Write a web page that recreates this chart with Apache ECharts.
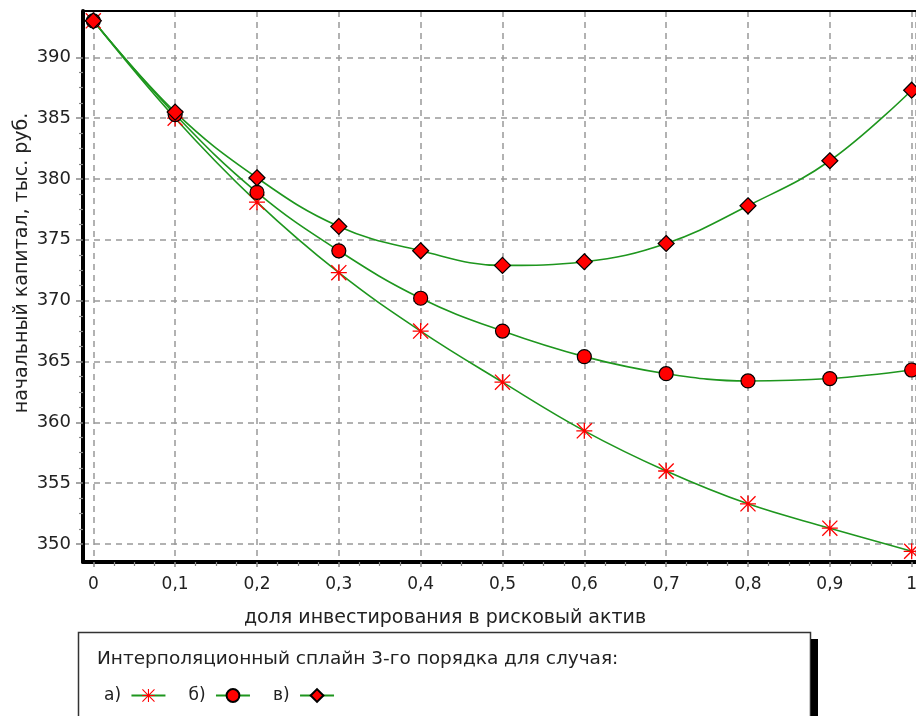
<!DOCTYPE html>
<html>
<head>
<meta charset="utf-8">
<script src="https://cdn.jsdelivr.net/npm/echarts@6/dist/echarts.min.js"></script>
<style>
  html, body { margin: 0; padding: 0; background: #fff; }
  #chart { width: 916px; height: 716px; }
</style>
</head>
<body>
<div id="chart"></div>
<script>
  // доля инвестирования (x) и значения трёх сплайнов
  const shares = [0, 0.1, 0.2, 0.3, 0.4, 0.5, 0.6, 0.7, 0.8, 0.9, 1];
  const caseA = [393.0, 385.0, 378.1, 372.3, 367.5, 363.3, 359.3, 356.0, 353.3, 351.3, 349.4];
  const caseB = [393.0, 385.3, 378.9, 374.1, 370.2, 367.5, 365.4, 364.0, 363.4, 363.6, 364.3];
  const caseC = [393.0, 385.5, 380.1, 376.1, 374.1, 372.9, 373.2, 374.7, 377.8, 381.5, 387.3];
  const seriesNames = ['а)', 'б)', 'в)'];

  const FONT = 'DejaVu Sans';
  const GREEN = '#1e961e';
  const RED = '#ff0000';
  const GRID_LINE = { color: '#999', width: 1.5, type: [6, 5] };

  // звёздочка: "+" и "x" из тонких полосок
  const star = 'path://M11 0L13 0L13 24L11 24Z M0 11L24 11L24 13L0 13Z ' +
    'M0 1.4L1.4 0L24 22.6L22.6 24Z M22.6 0L24 1.4L1.4 24L0 22.6Z';

  const pairs = (ys) => shares.map((x, i) => [x, ys[i]]);
  const commaFmt = (v) => String(+v.toFixed(1)).replace('.', ',');

  const chart = echarts.init(document.getElementById('chart'));

  const option = {
    animation: false,
    backgroundColor: '#fff',
    textStyle: { fontFamily: FONT },
    grid: [
      // рамка и сетка (немного шире диапазона данных)
      { left: 83, right: 0, top: 11, bottom: 154, outerBoundsMode: 'none' },
      // деления и подписи
      { left: 93.3, right: 4.3, top: 57.3, bottom: 172, outerBoundsMode: 'none' },
    ],
    xAxis: [
      {
        gridIndex: 0,
        type: 'value',
        min: -0.0126,
        max: 1.0053,
        splitNumber: 10,
        axisLine: { show: true, onZero: false, lineStyle: { color: '#000', width: 4 } },
        axisTick: { show: false },
        axisLabel: { show: false },
        splitLine: { show: true, lineStyle: GRID_LINE },
      },
      {
        gridIndex: 0,
        type: 'value',
        position: 'top',
        min: -0.0126,
        max: 1.0053,
        axisLine: { show: true, onZero: false, lineStyle: { color: '#000', width: 2 } },
        axisTick: { show: false },
        axisLabel: { show: false },
        splitLine: { show: false },
      },
      {
        gridIndex: 1,
        type: 'value',
        min: 0,
        max: 1,
        interval: 0.1,
        offset: 18,
        axisLine: { show: false, onZero: false },
        axisTick: { show: true, length: 9, lineStyle: { color: '#888', width: 1.5, type: [5, 4] } },
        minorTick: { show: true, splitNumber: 4, length: 4, lineStyle: { color: '#888', width: 1.2 } },
        axisLabel: { show: true, margin: 14, fontSize: 17, color: '#222', fontFamily: FONT, formatter: commaFmt },
        splitLine: { show: false },
      },
    ],
    yAxis: [
      {
        gridIndex: 0,
        type: 'value',
        min: 348.52,
        max: 393.81,
        splitNumber: 9,
        axisLine: { show: true, onZero: false, lineStyle: { color: '#000', width: 4 } },
        axisTick: { show: false },
        axisLabel: { show: false },
        splitLine: { show: true, lineStyle: GRID_LINE },
      },
      {
        gridIndex: 1,
        type: 'value',
        min: 350,
        max: 390,
        interval: 5,
        offset: 10.3,
        axisLine: { show: false, onZero: false },
        axisTick: { show: true, length: 7, lineStyle: { color: '#888', width: 1.5 } },
        minorTick: { show: true, splitNumber: 4, length: 4, lineStyle: { color: '#888', width: 1.2 } },
        axisLabel: { show: true, margin: 12, fontSize: 18, color: '#222', fontFamily: FONT },
        splitLine: { show: false },
      },
    ],
    legend: {
      left: 99,
      top: 682,
      align: 'right',
      itemWidth: 34,
      itemHeight: 16,
      itemGap: 22,
      formatter: (name) => name + ' ',
      textStyle: { fontSize: 17, color: '#222', fontFamily: FONT },
      data: seriesNames,
    },
    graphic: [
      {
        type: 'rect',
        shape: { x: 78.5, y: 632.5, width: 732, height: 120 },
        style: { fill: '#fff', stroke: '#333', lineWidth: 1.5 },
        z: -1,
      },
      {
        type: 'rect',
        shape: { x: 811, y: 639, width: 7, height: 120 },
        style: { fill: '#000' },
        z: -1,
      },
      {
        type: 'text',
        x: 97,
        y: 659,
        style: {
          text: 'Интерполяционный сплайн 3-го порядка для случая:',
          fontSize: 18.5, fontFamily: FONT, fill: '#222',
          verticalAlign: 'middle',
        },
      },
      {
        type: 'text',
        x: 445,
        y: 618,
        style: {
          text: 'доля инвестирования в рисковый актив',
          fontSize: 19, fontFamily: FONT, fill: '#222',
          align: 'center', verticalAlign: 'middle',
        },
      },
      {
        type: 'text',
        x: 22,
        y: 263,
        rotation: Math.PI / 2,
        style: {
          text: 'начальный капитал, тыс. руб.',
          fontSize: 19, fontFamily: FONT, fill: '#222',
          align: 'center', verticalAlign: 'middle',
        },
      },
    ],
    series: [
      {
        name: seriesNames[0],
        type: 'line',
        xAxisIndex: 0,
        yAxisIndex: 0,
        smooth: 0.4,
        data: pairs(caseA),
        symbol: star,
        symbolSize: 16,
        itemStyle: { color: RED, borderWidth: 0 },
        lineStyle: { color: GREEN, width: 1.6 },
      },
      {
        name: seriesNames[1],
        type: 'line',
        xAxisIndex: 0,
        yAxisIndex: 0,
        smooth: 0.4,
        data: pairs(caseB),
        symbol: 'circle',
        symbolSize: 14,
        itemStyle: { color: RED, borderColor: '#000', borderWidth: 1.2 },
        lineStyle: { color: GREEN, width: 1.6 },
      },
      {
        name: seriesNames[2],
        type: 'line',
        xAxisIndex: 0,
        yAxisIndex: 0,
        smooth: 0.4,
        data: pairs(caseC),
        symbol: 'diamond',
        symbolSize: 16,
        itemStyle: { color: RED, borderColor: '#000', borderWidth: 1.2 },
        lineStyle: { color: GREEN, width: 1.6 },
      },
    ],
  };

  chart.setOption(option);
</script>
</body>
</html>
